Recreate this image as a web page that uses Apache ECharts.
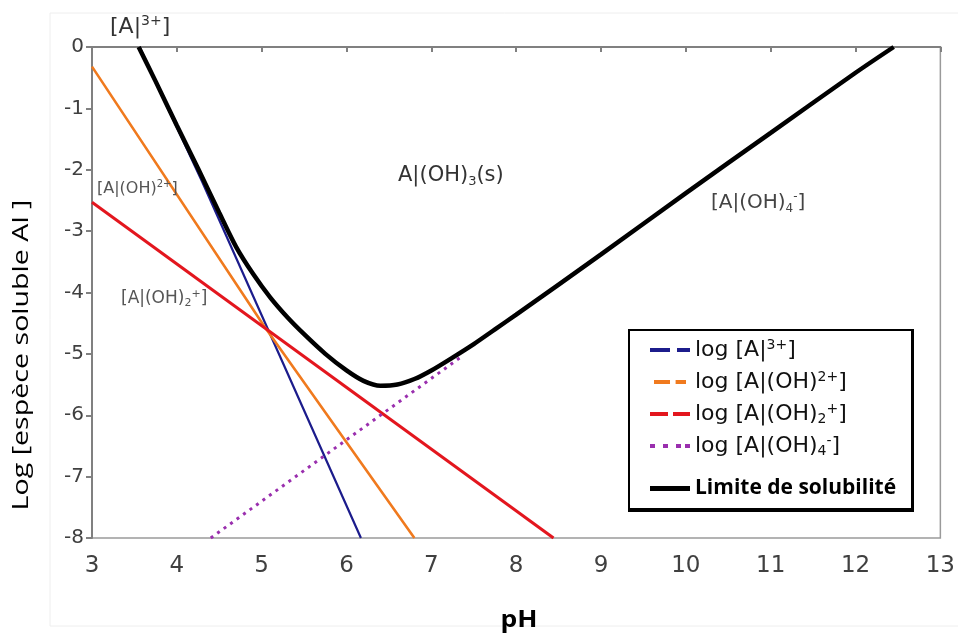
<!DOCTYPE html>
<html><head><meta charset="utf-8">
<script src="https://cdn.jsdelivr.net/npm/echarts@6/dist/echarts.min.js"></script>
<style>html,body{margin:0;padding:0;background:#fff}#c{width:958px;height:634px}</style>
</head><body><div id="c"></div>
<script>
// ---- data ----
const xTicks = [3, 4, 5, 6, 7, 8, 9, 10, 11, 12, 13];
const yTicks = [0, -1, -2, -3, -4, -5, -6, -7, -8];
const logAl3 = [[3.56, 0], [4.3, -2.2], [6.17, -8]];
const logAlOH = [[3, -0.32], [5.03, -4.55], [6.8, -8]];
const logAlOH2 = [[3, -2.53], [8.44, -8]];
const logAlOH4 = [[4.4, -8], [7.35, -5.05]];
const solubilite = [[3.55, 0], [3.75, -0.56], [4.0, -1.28], [4.25, -1.98], [4.5, -2.7], [4.7, -3.26],
  [4.9, -3.7], [5.1, -4.08], [5.3, -4.4], [5.5, -4.68], [5.75, -5.0], [6.0, -5.27], [6.2, -5.44],
  [6.4, -5.52], [6.6, -5.5], [6.8, -5.41], [7.0, -5.27], [7.25, -5.06], [7.5, -4.84], [7.75, -4.6],
  [8.0, -4.36], [9.0, -3.38], [10.0, -2.38], [11.0, -1.4], [12.0, -0.42], [12.45, 0]];
const seriesNames = ['log [A|³⁺]', 'log [A|(OH)²⁺]', 'log [A|(OH)₂⁺]', 'log [A|(OH)₄⁻]', 'Limite de solubilité'];
const legendRich = {
  'log [A|³⁺]': 'log [A|{p|3+}]',
  'log [A|(OH)²⁺]': 'log [A|(OH){p|2+}]',
  'log [A|(OH)₂⁺]': 'log [A|(OH){b|2}{p|+}]',
  'log [A|(OH)₄⁻]': 'log [A|(OH){b|4}{p|-}]',
  'Limite de solubilité': 'Limite de solubilité'
};
const colors = ['#1c1c8c', '#f07a1e', '#e3161e', '#9a2fae', '#000000'];

const FF = 'DejaVu Sans';
function gtext(x, y, str, size, color) {
  const ps = Math.round(size * 0.62);
  return {
    type: 'text', x: x, y: y, z: 6,
    style: {
      text: str, fill: color, fontFamily: FF, fontSize: size, lineHeight: Math.round(size * 1.2),
      textAlign: 'left', textVerticalAlign: 'middle',
      rich: {
        p: { fontFamily: FF, fontSize: ps, fill: color, verticalAlign: 'top', lineHeight: ps },
        b: { fontFamily: FF, fontSize: ps, fill: color, verticalAlign: 'bottom', lineHeight: ps }
      }
    }
  };
}

const chart = echarts.init(document.getElementById('c'));
const axisCol = '#808080';
const option = {
  animation: false,
  backgroundColor: '#ffffff',
  grid: { left: 92, right: 12, top: 47, bottom: 96, show: true, borderColor: '#9a9a9a', borderWidth: 1.5, backgroundColor: '#fff' },
  xAxis: {
    type: 'value', min: xTicks[0], max: xTicks[xTicks.length - 1], interval: 1,
    axisLine: { lineStyle: { color: axisCol, width: 2 } },
    axisTick: { show: true, length: 5, lineStyle: { color: axisCol, width: 2 } },
    axisLabel: { fontFamily: FF, fontSize: 23, color: '#404040', margin: 17 },
    splitLine: { show: false }
  },
  yAxis: {
    type: 'value', min: yTicks[yTicks.length - 1], max: yTicks[0], interval: 1,
    axisLine: { lineStyle: { color: axisCol, width: 2 } },
    axisTick: { show: true, length: 6, lineStyle: { color: axisCol, width: 2 } },
    axisLabel: { fontFamily: FF, fontSize: 20, color: '#404040', margin: 8 },
    splitLine: { show: false }
  },
  legend: [{
    z: 10, orient: 'vertical', left: 650, top: 338, padding: 0, itemGap: 8,
    itemWidth: 40, itemHeight: 4, selectedMode: false,
    itemStyle: { borderWidth: 0 },
    data: [
      { name: seriesNames[0], icon: 'path://M0,0h20v4h-20z M27,0h13v4h-13z' },
      { name: seriesNames[1], icon: 'path://M0,0h20v5h-20z M27,0h13v5h-13z' },
      { name: seriesNames[2], icon: 'path://M0,0h18v4h-18z M23,0h17v4h-17z' },
      { name: seriesNames[3], icon: 'path://M0,0h5v4h-5z M13,0h5v4h-5z M26,0h5v4h-5z M35,0h5v4h-5z' }
    ],
    formatter: function (n) { return legendRich[n]; },
    textStyle: {
      fontFamily: FF, fontSize: 22, color: '#111', lineHeight: 24,
      rich: {
        p: { fontFamily: FF, fontSize: 14, color: '#111', verticalAlign: 'top', lineHeight: 14 },
        b: { fontFamily: FF, fontSize: 14, color: '#111', verticalAlign: 'bottom', lineHeight: 14 }
      }
    }
  }, {
    z: 10, orient: 'vertical', left: 650, top: 478, padding: 0,
    itemWidth: 40, itemHeight: 5, selectedMode: false,
    itemStyle: { borderWidth: 0 },
    data: [{ name: seriesNames[4], icon: 'path://M0,0h40v5h-40z' }],
    textStyle: { fontFamily: 'Open Sans', fontWeight: 'bold', fontSize: 21, color: '#000' }
  }],
  series: [
    { name: seriesNames[0], type: 'line', data: logAl3, symbol: 'none', z: 2, color: colors[0], lineStyle: { color: colors[0], width: 2.2 } },
    { name: seriesNames[1], type: 'line', data: logAlOH, symbol: 'none', z: 2, color: colors[1], lineStyle: { color: colors[1], width: 2.6 } },
    { name: seriesNames[2], type: 'line', data: logAlOH2, symbol: 'none', z: 2, color: colors[2], lineStyle: { color: colors[2], width: 3 } },
    { name: seriesNames[3], type: 'line', data: logAlOH4, symbol: 'none', z: 2, color: colors[3], lineStyle: { color: colors[3], width: 3, type: [3, 5] } },
    { name: seriesNames[4], type: 'line', data: solubilite, symbol: 'none', smooth: 0.3, z: 3, color: colors[4], lineStyle: { color: colors[4], width: 4.5 } }
  ],
  graphic: [
    { type: 'rect', z: 0, shape: { x: 50, y: 13, width: 920, height: 613 }, style: { fill: 'none', stroke: '#eeeeee', lineWidth: 1 } },
    { type: 'rect', z: 8, shape: { x: 628, y: 329, width: 286, height: 183 }, style: { fill: '#000' } },
    { type: 'rect', z: 8, shape: { x: 630, y: 331, width: 281, height: 177 }, style: { fill: '#fff' } },
    gtext(110, 27, '[A|{p|3+}]', 22, '#333'),
    gtext(97, 189, '[A|(OH){p|2+}]', 16, '#555'),
    gtext(121, 299, '[A|(OH){b|2}{p|+}]', 17, '#555'),
    gtext(398, 176, 'A|(OH){b|3}(s)', 21, '#333'),
    gtext(711, 203, '[A|(OH){b|4}{p|-}]', 20, '#444'),
    {
      type: 'text', x: 22, y: 355, rotation: Math.PI / 2, scaleX: 1.3, z: 6,
      style: { text: 'Log [espèce soluble Al ]', fill: '#000', fontFamily: 'Open Sans', fontSize: 22, textAlign: 'center', textVerticalAlign: 'middle' }
    },
    {
      type: 'text', x: 519, y: 620, scaleX: 1.15, z: 6,
      style: { text: 'pH', fill: '#000', fontFamily: 'Open Sans', fontWeight: 'bold', fontSize: 23, textAlign: 'center', textVerticalAlign: 'middle' }
    }
  ]
};
chart.setOption(option);
</script></body></html>
